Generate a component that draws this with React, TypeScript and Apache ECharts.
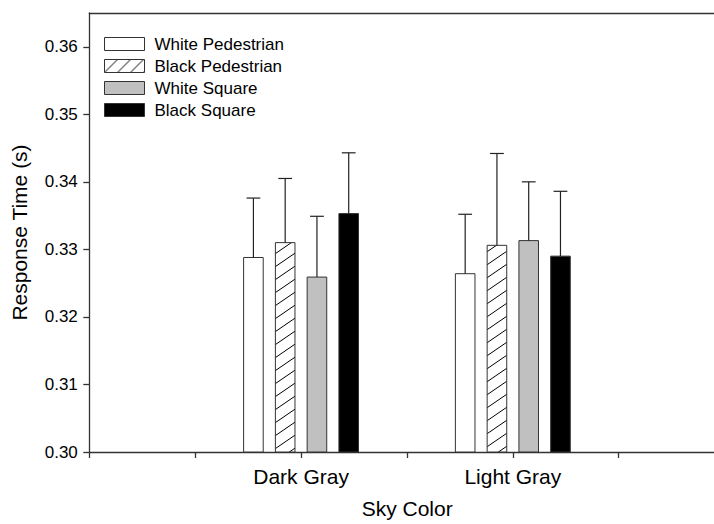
import React, { useEffect, useRef } from "react";
import * as echarts from "echarts";

// ---- data ----
const categories = ["Dark Gray", "Light Gray"];
const categoryPositions = [2, 4];
const seriesNames = ["White Pedestrian", "Black Pedestrian", "White Square", "Black Square"];
const whitePedestrian = [0.3288, 0.3264];
const whitePedestrianErr = [0.0088, 0.0088];
const blackPedestrian = [0.331, 0.3306];
const blackPedestrianErr = [0.0095, 0.0136];
const whiteSquare = [0.3259, 0.3313];
const whiteSquareErr = [0.009, 0.0087];
const blackSquare = [0.3353, 0.329];
const blackSquareErr = [0.009, 0.0096];
const yTicks = [0.3, 0.31, 0.32, 0.33, 0.34, 0.35, 0.36];
const xTicks = [0, 1, 2, 3, 4, 5];

const Y_MIN = 0.3;
const Y_MAX = 0.365;
const X_MAX = 5.9;
const FONT = "'Liberation Sans', Arial, Helvetica, sans-serif";

function makeHatch(w: number, h: number, lw: number) {
  const c = document.createElement("canvas");
  c.width = w;
  c.height = h;
  const ctx = c.getContext("2d")!;
  ctx.fillStyle = "#ffffff";
  ctx.fillRect(0, 0, w, h);
  ctx.strokeStyle = "#000000";
  ctx.lineWidth = lw;
  const s = h / w;
  for (const k of [-1, 0, 1]) {
    ctx.beginPath();
    ctx.moveTo(-2 + k * w, h + 2 * s);
    ctx.lineTo(w + 2 + k * w, -2 * s);
    ctx.stroke();
  }
  return c;
}

export default function App() {
  const ref = useRef<HTMLDivElement>(null);
  useEffect(() => {
    if (!ref.current) return;
    const chart = echarts.init(ref.current, undefined, { renderer: "svg" });
    const barHatch = { image: makeHatch(19, 13, 1), repeat: "repeat" };
    const legendHatch = { image: makeHatch(13, 13, 1), repeat: "repeat" };

    const fills: any[] = ["#ffffff", barHatch, "#c0c0c0", "#000000"];
    const legendFills: any[] = ["#ffffff", legendHatch, "#c0c0c0", "#000000"];
    const values = [whitePedestrian, blackPedestrian, whiteSquare, blackSquare];
    const errs = [whitePedestrianErr, blackPedestrianErr, whiteSquareErr, blackSquareErr];
    const offsets = [-0.45, -0.15, 0.15, 0.45];
    const barW = 0.185;
    const capW = 0.13;

    const series = seriesNames.map((name, si) => ({
      name,
      type: "custom",
      xAxisIndex: 0,
      yAxisIndex: 0,
      itemStyle: { color: si === 1 ? "#ffffff" : fills[si] },
      data: categoryPositions.map((p, ci) => [p, values[si][ci], errs[si][ci]]),
      renderItem: (params: any, api: any) => {
        const x = api.value(0) + offsets[si];
        const v = api.value(1);
        const e = api.value(2);
        const top = api.coord([x, v]);
        const base = api.coord([x, Y_MIN]);
        const cap = api.coord([x, v + e]);
        const w = api.size([barW, 0])[0];
        const cw = api.size([capW, 0])[0];
        return {
          type: "group",
          children: [
            {
              type: "rect",
              shape: { x: top[0] - w / 2, y: top[1], width: w, height: base[1] - top[1] },
              style: { fill: fills[si], stroke: "#333333", lineWidth: 1 },
            },
            {
              type: "line",
              shape: { x1: top[0], y1: top[1], x2: cap[0], y2: cap[1] },
              style: { stroke: "#222222", lineWidth: 1.2 },
            },
            {
              type: "line",
              shape: { x1: cap[0] - cw / 2, y1: cap[1], x2: cap[0] + cw / 2, y2: cap[1] },
              style: { stroke: "#222222", lineWidth: 1.2 },
            },
          ],
        };
      },
    }));

    chart.setOption({
      animation: false,
      backgroundColor: "#ffffff",
      textStyle: { fontFamily: FONT },
      grid: { left: 89.3, top: 13, right: 0, bottom: 66.3, containLabel: false },
      legend: {
        orient: "vertical",
        left: 104,
        top: 33,
        padding: 0,
        itemGap: 0,
        itemWidth: 40,
        itemHeight: 13,
        textStyle: { fontSize: 17, fontFamily: FONT, color: "#000", lineHeight: 22, padding: [0, 0, 0, 5] },
        data: seriesNames.map((n, i) => ({
          name: n,
          icon: "rect",
          itemStyle: { color: legendFills[i], borderColor: "#333333", borderWidth: 1 },
        })),
      },
      xAxis: [
        {
          type: "value",
          position: "bottom",
          min: 0,
          max: X_MAX,
          interval: 1,
          name: "Sky Color",
          nameLocation: "middle",
          nameGap: 46,
          nameTextStyle: { fontSize: 21, fontFamily: FONT, color: "#000", padding: [0, 0, 0, 11] },
          axisLine: { show: true, onZero: false, lineStyle: { color: "#333333", width: 1.3 } },
          axisTick: { show: true, inside: false, length: 6, customValues: xTicks, lineStyle: { color: "#333333", width: 1.3 } },
          axisLabel: {
            show: true,
            customValues: categoryPositions,
            margin: 14,
            fontSize: 21,
            fontFamily: FONT,
            color: "#000",
            formatter: (v: number) => {
              const i = categoryPositions.indexOf(Math.round(v * 1000) / 1000);
              return i >= 0 ? categories[i] : "";
            },
          },
          splitLine: { show: false },
        },
        {
          type: "value",
          position: "top",
          min: 0,
          max: X_MAX,
          axisLine: { show: true, onZero: false, lineStyle: { color: "#333333", width: 1.3 } },
          axisTick: { show: false },
          axisLabel: { show: false },
          splitLine: { show: false },
        },
      ],
      yAxis: {
        type: "value",
        min: Y_MIN,
        max: Y_MAX,
        interval: 0.01,
        name: "Response Time (s)",
        nameLocation: "middle",
        nameRotate: 90,
        nameGap: 59,
        nameTextStyle: { fontSize: 21, fontFamily: FONT, color: "#000" },
        axisLine: { show: true, onZero: false, lineStyle: { color: "#333333", width: 1.3 } },
        axisTick: { show: true, inside: false, length: 6, customValues: yTicks, lineStyle: { color: "#333333", width: 1.3 } },
        axisLabel: {
          customValues: yTicks,
          margin: 11.5,
          fontSize: 17,
          fontFamily: FONT,
          color: "#000",
          formatter: (v: number) => v.toFixed(2),
        },
        splitLine: { show: false },
      },
      series,
    });
    return () => chart.dispose();
  }, []);
  return (
    <div
      ref={ref}
      style={{ position: "absolute", left: 0, top: 0, width: 714, height: 524, background: "#fff" }}
    />
  );
}
